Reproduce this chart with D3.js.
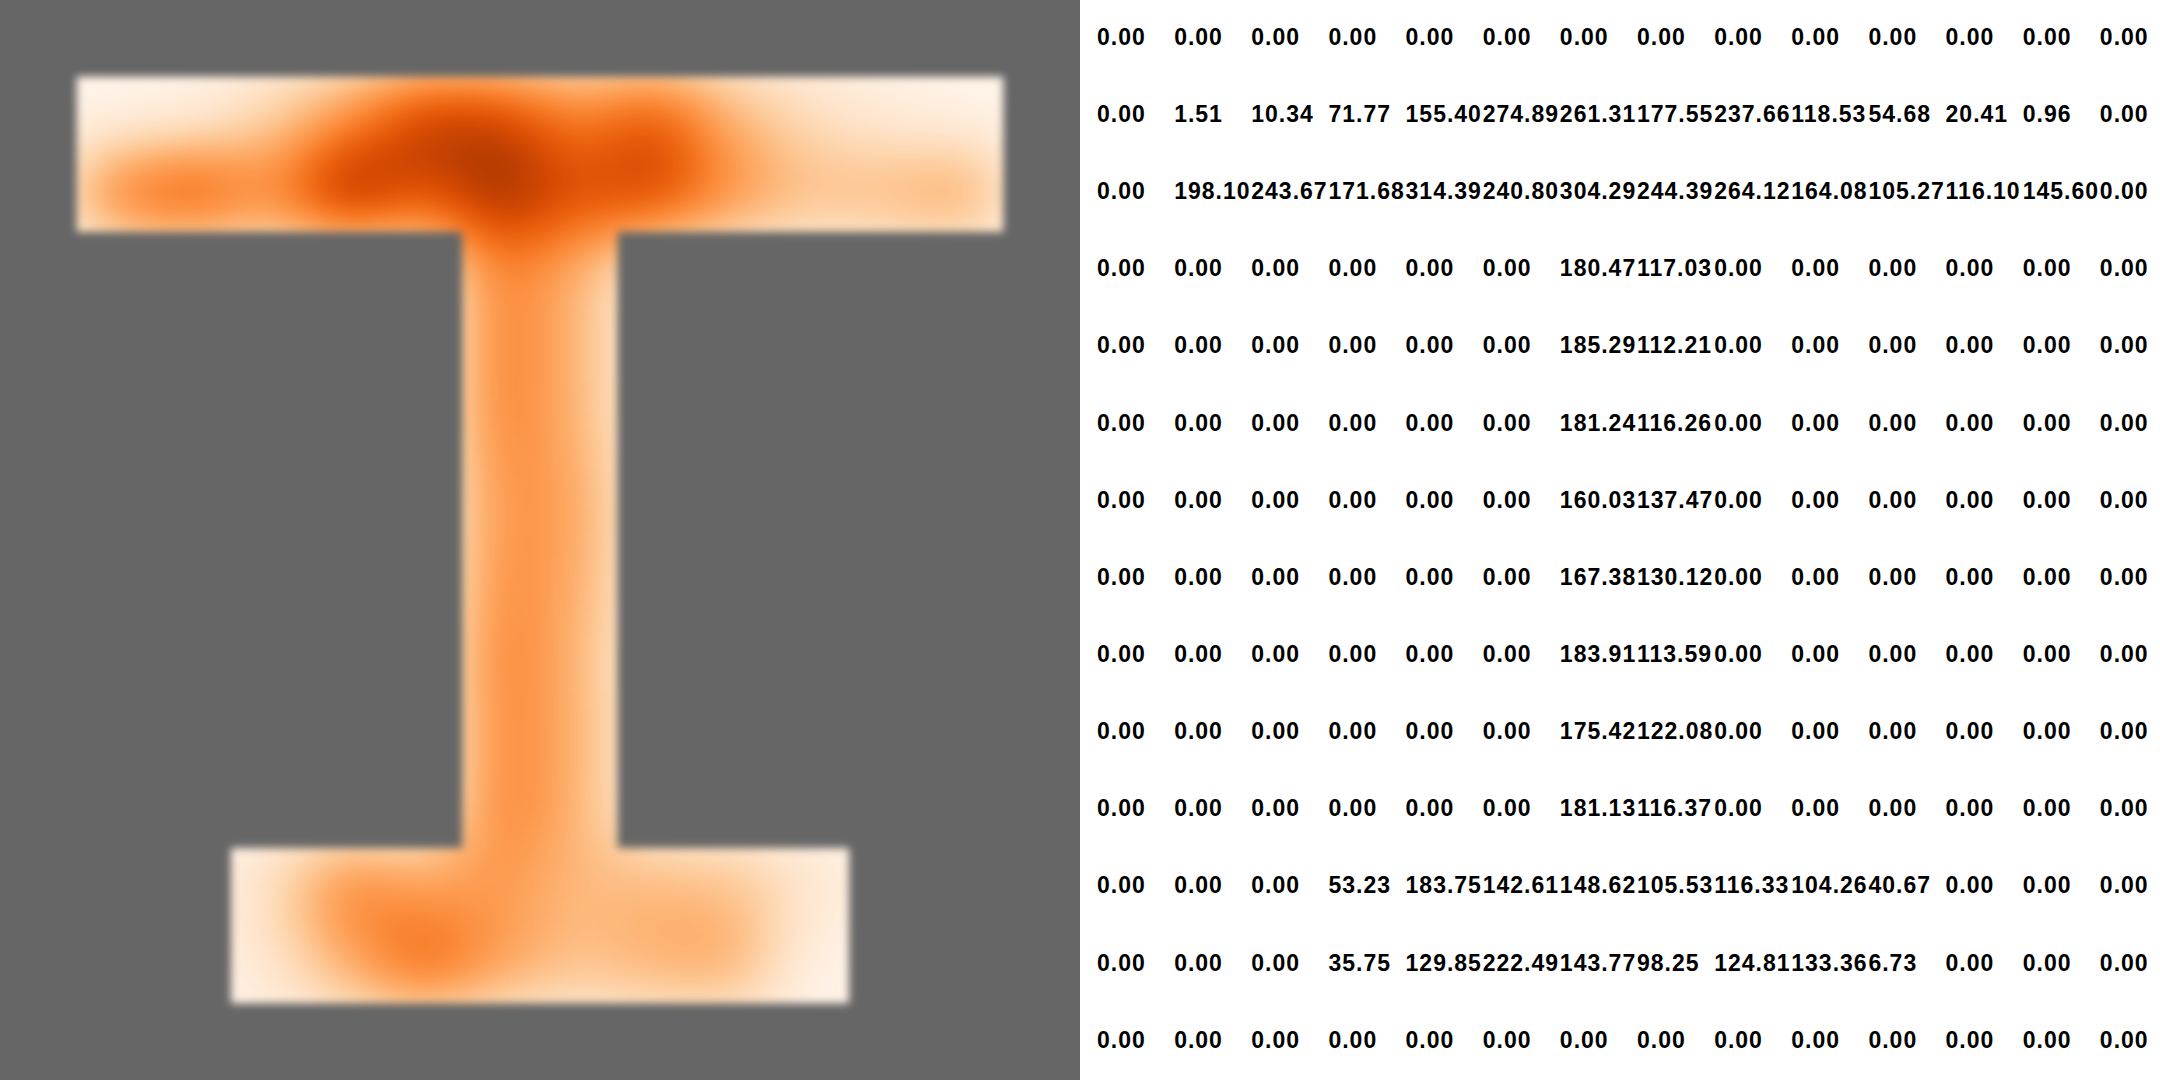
<!DOCTYPE html>
<html>
<head>
<meta charset="utf-8">
<script src="https://cdn.jsdelivr.net/npm/d3@7"></script>
<style>
  html, body { margin: 0; padding: 0; background: #ffffff; }
  svg { display: block; }
</style>
</head>
<body>
<script>
// ---- data: 14 x 14 grid, one named array per row ----
const columns = d3.range(14);
const rowIds  = d3.range(14);
const row00 = [0.00, 0.00, 0.00, 0.00, 0.00, 0.00, 0.00, 0.00, 0.00, 0.00, 0.00, 0.00, 0.00, 0.00];
const row01 = [0.00, 1.51, 10.34, 71.77, 155.40, 274.89, 261.31, 177.55, 237.66, 118.53, 54.68, 20.41, 0.96, 0.00];
const row02 = [0.00, 198.10, 243.67, 171.68, 314.39, 240.80, 304.29, 244.39, 264.12, 164.08, 105.27, 116.10, 145.60, 0.00];
const row03 = [0.00, 0.00, 0.00, 0.00, 0.00, 0.00, 180.47, 117.03, 0.00, 0.00, 0.00, 0.00, 0.00, 0.00];
const row04 = [0.00, 0.00, 0.00, 0.00, 0.00, 0.00, 185.29, 112.21, 0.00, 0.00, 0.00, 0.00, 0.00, 0.00];
const row05 = [0.00, 0.00, 0.00, 0.00, 0.00, 0.00, 181.24, 116.26, 0.00, 0.00, 0.00, 0.00, 0.00, 0.00];
const row06 = [0.00, 0.00, 0.00, 0.00, 0.00, 0.00, 160.03, 137.47, 0.00, 0.00, 0.00, 0.00, 0.00, 0.00];
const row07 = [0.00, 0.00, 0.00, 0.00, 0.00, 0.00, 167.38, 130.12, 0.00, 0.00, 0.00, 0.00, 0.00, 0.00];
const row08 = [0.00, 0.00, 0.00, 0.00, 0.00, 0.00, 183.91, 113.59, 0.00, 0.00, 0.00, 0.00, 0.00, 0.00];
const row09 = [0.00, 0.00, 0.00, 0.00, 0.00, 0.00, 175.42, 122.08, 0.00, 0.00, 0.00, 0.00, 0.00, 0.00];
const row10 = [0.00, 0.00, 0.00, 0.00, 0.00, 0.00, 181.13, 116.37, 0.00, 0.00, 0.00, 0.00, 0.00, 0.00];
const row11 = [0.00, 0.00, 0.00, 53.23, 183.75, 142.61, 148.62, 105.53, 116.33, 104.26, 40.67, 0.00, 0.00, 0.00];
const row12 = [0.00, 0.00, 0.00, 35.75, 129.85, 222.49, 143.77, 98.25, 124.81, 133.36, 6.73, 0.00, 0.00, 0.00];
const row13 = [0.00, 0.00, 0.00, 0.00, 0.00, 0.00, 0.00, 0.00, 0.00, 0.00, 0.00, 0.00, 0.00, 0.00];
const rows = [row00, row01, row02, row03, row04, row05, row06, row07,
              row08, row09, row10, row11, row12, row13];

// ---- layout ----
const W = 2160, H = 1080, P = 1080;
const cells = [];
rows.forEach((r, i) => r.forEach((v, j) => cells.push({ row: i, col: j, value: v })));
const filled = cells.filter(d => d.value > 0);
const vmax = d3.max(cells, d => d.value);

const xMap = d3.scaleBand().domain(columns).range([0, P]);
const yMap = d3.scaleBand().domain(rowIds).range([0, H]);
const xTab = d3.scaleBand().domain(columns).range([P, W]);
// value -> intensity (blurred in value space), intensity -> Oranges colour map
const level = d3.scaleLinear().domain([0, vmax * 1.04]).range([0, 1]).clamp(true);
const color = d3.scaleSequential(d3.interpolateOranges).domain([0, 1]);
const fmt = d3.format(".2f");

const svg = d3.select("body").append("svg").attr("width", W).attr("height", H);
const defs = svg.append("defs");

// smoothing filter: blur the value field, then map it through the colour ramp
const N = 64;
const ramp = d3.range(N + 1).map(i => d3.rgb(color(i / N)));
const smooth = defs.append("filter").attr("id", "smooth")
  .attr("filterUnits", "userSpaceOnUse").attr("x", -200).attr("y", -200).attr("width", P + 400).attr("height", H + 400)
  .attr("color-interpolation-filters", "sRGB");
smooth.append("feGaussianBlur").attr("in", "SourceGraphic").attr("stdDeviation", 36).attr("edgeMode", "duplicate").attr("result", "b");
const ct = smooth.append("feComponentTransfer").attr("in", "b");
ct.append("feFuncR").attr("type", "table").attr("tableValues", ramp.map(c => (c.r / 255).toFixed(4)).join(" "));
ct.append("feFuncG").attr("type", "table").attr("tableValues", ramp.map(c => (c.g / 255).toFixed(4)).join(" "));
ct.append("feFuncB").attr("type", "table").attr("tableValues", ramp.map(c => (c.b / 255).toFixed(4)).join(" "));
ct.append("feFuncA").attr("type", "linear").attr("slope", 0).attr("intercept", 1);

// soft edge for the shape mask
const edge = defs.append("filter").attr("id", "edge")
  .attr("filterUnits", "userSpaceOnUse").attr("x", 0).attr("y", 0).attr("width", P).attr("height", H)
  .attr("color-interpolation-filters", "sRGB");
edge.append("feGaussianBlur").attr("stdDeviation", 4);

const mask = defs.append("mask").attr("id", "shape")
  .attr("maskUnits", "userSpaceOnUse").attr("x", 0).attr("y", 0).attr("width", P).attr("height", H);
mask.append("rect").attr("x", 0).attr("y", 0).attr("width", P).attr("height", H).attr("fill", "#000");
mask.append("g").attr("filter", "url(#edge)")
  .selectAll("rect").data(filled).join("rect")
  .attr("x", d => xMap(d.col) - 0.5).attr("y", d => yMap(d.row) - 0.5)
  .attr("width", xMap.bandwidth() + 1).attr("height", yMap.bandwidth() + 1)
  .attr("fill", "#ffffff");

// left panel
svg.append("rect").attr("x", 0).attr("y", 0).attr("width", P).attr("height", H).attr("fill", "#666666");
svg.append("g").attr("mask", "url(#shape)")
  .append("g").attr("filter", "url(#smooth)")
  .selectAll("rect").data(cells).join("rect")
  .attr("x", d => xMap(d.col) - 0.5).attr("y", d => yMap(d.row) - 0.5)
  .attr("width", xMap.bandwidth() + 1).attr("height", yMap.bandwidth() + 1)
  .attr("fill", d => { const g = Math.round(level(d.value) * 255); return d3.rgb(g, g, g); });

// right panel: value table
svg.append("rect").attr("x", P).attr("y", 0).attr("width", W - P).attr("height", H).attr("fill", "#ffffff");
svg.append("g")
  .selectAll("text").data(cells).join("text")
  .attr("x", d => xTab(d.col) + 17)
  .attr("y", d => yMap(d.row) + yMap.bandwidth() / 2 - 2)
  .attr("dy", "0.36em")
  .attr("font-family", "'Liberation Sans', Arial, sans-serif")
  .attr("font-weight", "bold")
  .attr("font-size", 23)
  .attr("letter-spacing", 1)
  .attr("fill", "#000000")
  .text(d => fmt(d.value));
</script>
</body>
</html>
